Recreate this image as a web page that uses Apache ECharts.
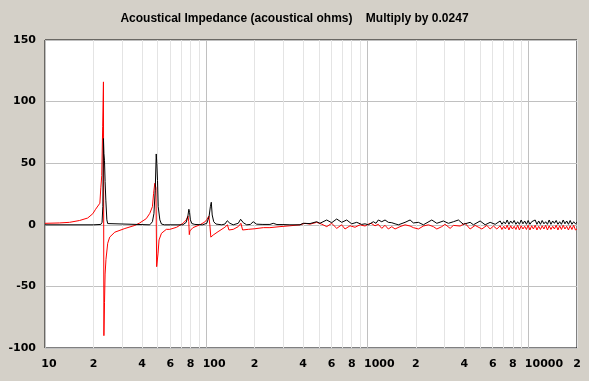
<!DOCTYPE html>
<html><head><meta charset="utf-8">
<script src="https://cdn.jsdelivr.net/npm/echarts@6/dist/echarts.min.js"></script>
<style>html,body{margin:0;padding:0;background:#d4d0c8;}#c{width:589px;height:381px;}</style>
</head><body><div id="c"></div>
<script>
const titleText = 'Acoustical Impedance (acoustical ohms)    Multiply by 0.0247';
const yTicks = [-100, -50, 0, 50, 100, 150];
const xLabelValues = [10,20,40,60,80,100,200,400,600,800,1000,2000,4000,6000,8000,10000,20000];
const xGridValues = [10,20,30,40,50,60,70,80,90,100,200,300,400,500,600,700,800,900,1000,2000,3000,4000,5000,6000,7000,8000,9000,10000,20000];

const blackFreq = [10,20,22.2,22.6,22.85,23.05,23.2,23.4,23.6,23.85,24.2,24.5,25.2,44.7,46.4,47.4,48.3,49.0,49.4,49.9,50.4,51.6,52.8,55,71.7,75.2,77.0,78.1,78.9,79.8,81.5,85.1,95,100.9,104.2,106.2,107.6,109,111.4,115,125,130.7,135.2,136.4,140.4,147.2,158.1,163.6,166,170,178.4,188,195.8,205.6,225,248.7,260.7,274.9,299.5,331,382,400.4,441,485,508,559.6,601,645.6,693.4,744.7,800,859.4,923,967.6,1014,1090,1132,1170,1229,1288,1350,1418,1486,1558,1596,1715,1842,1931,2074,2227,2512,2699,2965,3185,3421,3675,3947,4343,4553,5012,5384,5783,6212,
  6672,6841,7014,7192,7374,7561,7752,7949,8150,8357,8568,8785,9008,9236,9470,9710,9955,10207,10466,10731,11003,11281,11567,11860,12160,12468,12784,13108,13440,13780,14129,14487,14854,15230,15615,16011,16416,16832,17258,17695,18143,18603,19074,19557,20000];
const blackVal = [0,0,0.3,2,15,70,58,52,35,20,4,1,0,0,2.5,9,28,57.5,50,36,14.7,4,0.6,0,0,2,7,12.6,10,4,1,0.3,0,1.2,6.6,14.7,18.3,8,2.5,0.6,0,0.6,3.3,4.5,1.2,0,1.2,4.5,6.1,1.7,0,0.3,2.5,0.5,0.3,0.3,1.2,0.2,0.2,0,0,1.2,1,2.5,1.2,3.9,1.7,4.7,2,3.9,0.8,2,0.3,0.8,0,2.5,1.2,3.9,2.5,3.9,2,1.7,0.8,0,0.5,2,3.9,1.5,2,0,3.9,1.2,3.1,1.2,2.5,3.9,0.4,2,0,3.1,0,2,0.4,
  3.1,0.4,2.5,0.8,3.9,0.4,3.1,1.2,3.5,0.4,2.5,0.4,3.9,0.8,3.1,0.4,3.5,0.4,2.5,1.2,3.9,0.4,3.1,0.4,3.5,0.8,2.5,0.4,3.9,0.4,3.1,1.2,3.5,0.4,2.5,0.4,3.9,0.8,3.1,0.4,3.5,0.4,2.5,0.8,2];

const redFreq = [10,12.3,14.2,16.4,18.4,19.8,20.6,21.9,22.2,22.5,22.8,23.05,23.2,23.4,23.6,23.9,24.5,25.2,27.1,31.3,36.1,38.7,42.5,44.7,46.4,47.2,48.0,48.8,49.3,50.3,51.0,52.8,56.6,59.5,65.6,71.7,75.2,77.1,78.0,78.6,79.2,82.8,91.4,98.1,101.3,103.9,105.4,106.9,110.6,118.5,130.7,135.5,138.4,147.2,158.1,164.3,168.3,182.4,200.7,226.6,248.7,287,331,382,410,441,485,522,560,601,646,693,727,781,839,901,968,1014,1055,1116,1170,1229,1288,1350,1418,1486,1596,1715,1842,1931,2074,2227,2392,2570,2699,2898,3038,3264,3421,3766,4044,4343,4665,5136,5516,5783,6062,6364,
  6672,6841,7014,7192,7374,7561,7752,7949,8150,8357,8568,8785,9008,9236,9470,9710,9955,10207,10466,10731,11003,11281,11567,11860,12160,12468,12784,13108,13440,13780,14129,14487,14854,15230,15615,16011,16416,16832,17258,17695,18143,18603,19074,19557,20000];
const redVal = [1.2,1.5,2,3.5,5.5,9,12.6,17.5,30,40,80,116,-90,-63,-40,-28,-15,-10,-6,-3,-0.5,1.5,5,9.3,14.7,25.6,33.7,30,-34,-23,-12.3,-6.9,-3.7,-3.7,-2,1.2,3.9,7.1,2.5,-8,-5,-2.3,0,2.3,4.5,7.1,0,-10,-8.3,-5.6,-2,0,-4.2,-3.7,-1.5,1.2,-4.2,-3.7,-3.2,-2.3,-2.3,-1.5,-0.8,0,1.2,0.5,2,0.5,-1.5,1.2,-2.9,0,-3.4,-0.8,-2,0,-1,0.5,1.2,-0.8,0.4,-2.9,-0.4,-3.4,-1.5,-3.4,-1.5,0,-1,-2.3,-3.4,-1,0,-1.5,-3.4,-1.5,0.4,-2.9,-0.5,-1,1.2,-3.4,-0.5,-3.4,-0.5,-3.4,-1,-3.4,
  -0.8,-3.8,-1.2,-3.4,-0.4,-4.2,-0.8,-3.4,-1.2,-3.8,-0.4,-4.2,-0.8,-3.4,-1.2,-3.8,-0.4,-4.2,-0.8,-3.4,-0.4,-4.2,-1.2,-3.8,-0.8,-3.4,-0.4,-4.2,-0.8,-3.8,-1.2,-3.4,-0.4,-4.2,-0.8,-3.8,-0.4,-3.4,-1.2,-4.2,-0.8,-3.8,-0.4,-4.2,-3.4];

const zip = (a, b) => a.map((v, i) => [v, b[i]]);
const FONT = 'DejaVu Sans';
const lblBase = {fontFamily: FONT, fontWeight: 'bold', fontSize: 11, color: '#000'};

const chart = echarts.init(document.getElementById('c'), null, {renderer: 'canvas'});
chart.setOption({
  animation: false,
  backgroundColor: '#d4d0c8',
  title: {
    text: titleText, left: 'center', top: 8,
    textStyle: {fontFamily: 'Liberation Sans', fontWeight: 'bold', fontSize: 12, color: '#000'}
  },
  grid: {left: 45, right: 12, top: 40, bottom: 33, show: true, backgroundColor: '#fff', borderColor: '#000', borderWidth: 1},
  xAxis: {
    type: 'log', logBase: 10, min: 10, max: 20000,
    axisLine: {show: false},
    axisTick: {show: false, customValues: xGridValues},
    splitLine: {show: true, lineStyle: {width: 1, color: ['#c0c0c0','#e4e4e4','#e4e4e4','#e4e4e4','#e4e4e4','#e4e4e4','#e4e4e4','#e4e4e4','#e4e4e4']}},
    minorTick: {show: false}, minorSplitLine: {show: false},
    axisLabel: Object.assign({
      customValues: xLabelValues, margin: 11,
      formatter: v => {
        const e = Math.round(Math.log10(v));
        if (Math.abs(Math.pow(10, e) - v) < 1e-6 * v) return '{d' + e + '|' + Math.round(v) + '}';
        return String(Math.round(v / Math.pow(10, Math.floor(Math.log10(v)))));
      },
      rich: {
        d1: Object.assign({padding: [0, 0, 0, 8]}, lblBase),
        d2: Object.assign({padding: [0, 0, 0, 16]}, lblBase),
        d3: Object.assign({padding: [0, 0, 0, 24]}, lblBase),
        d4: Object.assign({padding: [0, 0, 0, 31]}, lblBase)
      }
    }, lblBase)
  },
  yAxis: {
    type: 'value', min: -100, max: 150, interval: 50,
    axisLine: {show: false}, axisTick: {show: false},
    splitLine: {show: true, lineStyle: {color: '#c0c0c0', width: 1}},
    axisLabel: Object.assign({margin: 9}, lblBase)
  },
  series: [
    {type: 'line', data: zip(redFreq, redVal), showSymbol: false, symbol: 'none', lineStyle: {color: '#ff0000', width: 1}, itemStyle: {color: '#ff0000'}, z: 2},
    {type: 'line', data: zip(blackFreq, blackVal), showSymbol: false, symbol: 'none', lineStyle: {color: '#000000', width: 1}, itemStyle: {color: '#000'}, z: 3}
  ]
});
</script></body></html>
